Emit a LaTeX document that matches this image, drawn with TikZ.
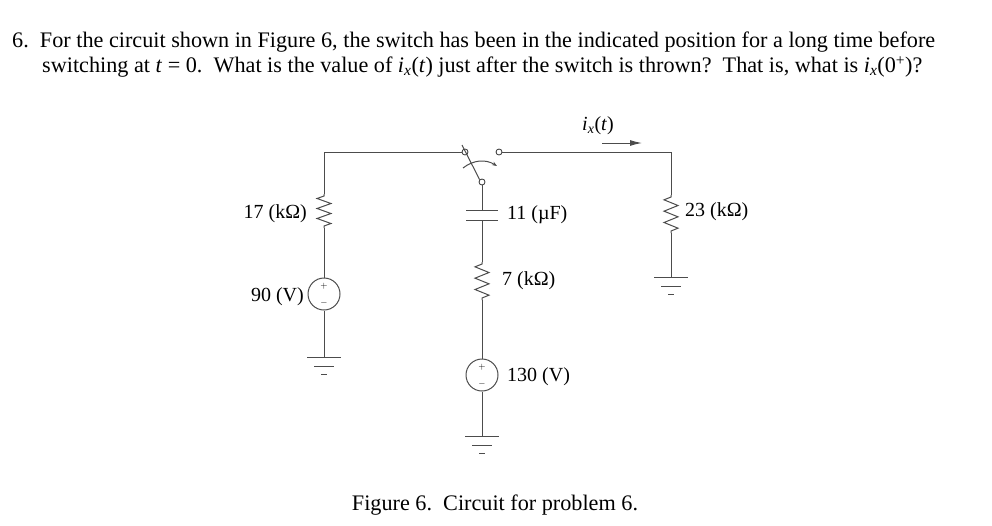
\documentclass[tikz,border=0pt]{standalone}
\usepackage{fontspec}
\setmainfont{Liberation Serif}
\usetikzlibrary{calc,arrows.meta}
% zigzag resistor between (#1,#2) and (#1,#3)
\def\resistor(#1,#2,#3){\draw[wire] (#1,#2) -- ++(0,2)
  \foreach \k in {1,...,6} {-- ($(#1,#2)+({14*mod(\k+1,2)-7},{2+(#3-#2-4)*(\k-0.5)/6})$)}
  -- (#1,#3-2) -- (#1,#3);}
\def\gnd(#1,#2){\draw[wire] (#1-17,#2) -- (#1+17,#2) (#1-10,#2+9) -- (#1+10,#2+9) (#1-3,#2+17) -- (#1+3,#2+17);}

\begin{document}
\begin{tikzpicture}[x=1pt,y=-1pt,
  wire/.style={draw=black!70,line width=1pt},
  src/.style={circle,draw=black!70,line width=1pt,minimum size=32pt,inner sep=0pt},
  term/.style={circle,draw=black!80,fill=white,line width=0.8pt,minimum size=6pt,inner sep=0pt},
  lbl/.style={font=\fontsize{20}{20}\selectfont,inner sep=0pt},
  big/.style={font=\fontsize{22.2}{22.2}\selectfont,inner sep=0pt}]
  \useasboundingbox (0,0) rectangle (992,525);

  %%%%% TEXT %%%%%
  \node[big,anchor=west] (q1) at (12,42) {6.\enspace For the circuit shown in Figure 6, the switch has been in the indicated position for a long time before};
  \node[big,anchor=west] (q2) at (42,67) {switching at \textit{t} = 0.\enspace What is the value of \textit{i}\textsubscript{\textit{x}}(\textit{t}) just after the switch is thrown?\enspace That is, what is \textit{i}\textsubscript{\textit{x}}(0\textsuperscript{+})?};
  \node[big] (cap) at (495,505) {Figure 6.\enspace Circuit for problem 6.};

  %%%%% CIRCUIT %%%%%
  \node[term] (sa) at (465,152) {};
  \node[term] (sb) at (499,152) {};
  \node[term] (sp) at (482,182) {};
  \coordinate (tl) at (324,152);
  \coordinate (tr) at (671,152);

  \draw[wire] (sa) -- (tl) -- (324,194);
  \resistor(324,194,228)
  \node[src] (v1) at (324,294) {};
  \node[font=\small] at (324,286) {$+$};
  \node[font=\small] at (324,303) {$-$};
  \draw[wire] (324,228) -- (v1.north);
  \draw[wire] (v1.south) -- (324,357);
  \gnd(324,357)

  \draw[wire] (sb) -- (tr) -- (671,195);
  \resistor(671,195,233)
  \draw[wire] (671,233) -- (671,277);
  \gnd(671,277)

  % switch
  \draw[wire] (462,145) -- (sp.north west);
  \draw[wire,-{Stealth[length=5pt]}] (463,168) to[bend left=35] (497,166);

  \draw[wire] (sp) -- (482,210);
  \draw[wire] (466,210) -- (498,210) (466,220) -- (498,220);
  \draw[wire] (482,220) -- (482,262);
  \resistor(482,262,300)
  \node[src] (v2) at (482,375) {};
  \node[font=\small] at (482,367) {$+$};
  \node[font=\small] at (482,384) {$-$};
  \draw[wire] (482,300) -- (v2.north);
  \draw[wire] (v2.south) -- (482,436);
  \gnd(482,436)

  % current arrow
  \coordinate (ia) at (602,143);
  \coordinate (ib) at (642,143);
  \draw[wire,-{Latex[length=12pt,width=6pt]}] (ia) -- (ib);
  \node[lbl] (ix) at (598,126) {\textit{i}\textsubscript{\textit{x}}(\textit{t})};

  \node[lbl,anchor=east] (r1) at (307,214) {17 (kΩ)};
  \node[lbl,anchor=east] (e1) at (304,297) {90 (V)};
  \node[lbl,anchor=west] (c1) at (507,215) {11 (µF)};
  \node[lbl,anchor=west] (r2) at (502,281) {7 (kΩ)};
  \node[lbl,anchor=west] (e2) at (507,377) {130 (V)};
  \node[lbl,anchor=west] (r3) at (685,212) {23 (kΩ)};
\end{tikzpicture}
\end{document}
